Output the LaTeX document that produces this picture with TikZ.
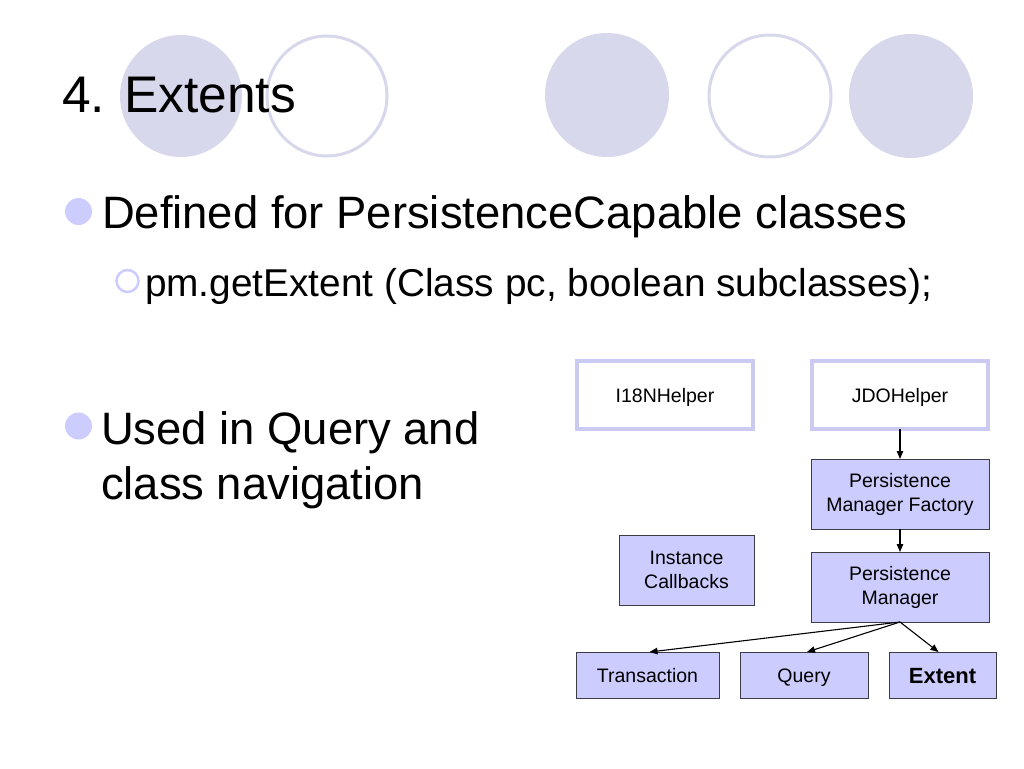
\documentclass[tikz,border=0pt]{standalone}
\usepackage{fontspec}
\setmainfont{Liberation Sans}
\usetikzlibrary{arrows.meta}
\definecolor{circ}{RGB}{216,216,236}
\definecolor{boxfill}{RGB}{204,204,255}
\definecolor{helperline}{RGB}{202,202,242}
\definecolor{bul}{RGB}{204,204,255}
\definecolor{boxline}{RGB}{60,60,70}
\begin{document}
\begin{tikzpicture}[x=1pt,y=-1pt,
  helperbox/.style={draw=helperline, line width=4pt, fill=white, inner sep=0pt, outer sep=0pt,
     minimum width=176pt, minimum height=68pt, align=center, text height=14pt, text depth=0pt,
     font=\fontsize{19.5}{24}\selectfont},
  classbox/.style={draw=boxline, line width=0.9pt, fill=boxfill, inner sep=0pt, outer sep=0pt,
     align=center, font=\fontsize{19.5}{24}\selectfont},
  oneline/.style={text height=14pt, text depth=0pt},
  conn/.style={draw=black, line width=1.1pt, -{Triangle[length=8pt,width=6.5pt]}},
  txt/.style={anchor=base west, inner sep=0pt, outer sep=0pt},
  bigbul/.style={circle, fill=bul, minimum size=27pt, inner sep=0pt},
  smallbul/.style={circle, draw=bul, line width=2.5pt, minimum size=22pt, inner sep=0pt}
]
\useasboundingbox (0,0) rectangle (1024,768);
\fill[white] (0,0) rectangle (1024,768);
% decorative circles
\fill[circ] (181,96) circle[radius=61pt];
\draw[circ, line width=3pt] (327,96) circle[radius=60pt];
\fill[circ] (607,95) circle[radius=62pt];
\draw[circ, line width=3pt] (770,96) circle[radius=61pt];
\fill[circ] (911,96) circle[radius=62pt];
% title
\node[txt, font=\fontsize{51.5}{52}\selectfont] (title) at (62,112) {4. Extents};
% bullets
\node[bigbul] (b1) at (78.5,211.5) {};
\node[txt, font=\fontsize{45.4}{54}\selectfont] (t1) at (102,228) {Defined for PersistenceCapable classes};
\node[smallbul] (b2) at (127.5,281) {};
\node[txt, font=\fontsize{38.8}{46}\selectfont] (t2) at (145,296) {pm.getExtent (Class pc, boolean subclasses);};
\node[bigbul] (b3) at (78.5,426) {};
\node[txt, font=\fontsize{45.4}{54}\selectfont] (t3) at (101,444) {Used in Query and};
\node[txt, font=\fontsize{45.4}{54}\selectfont] (t4) at (101,499) {class navigation};
% diagram
\node[helperbox] (i18n) at (665,395) {I18NHelper};
\node[helperbox] (jdo) at (900,395) {JDOHelper};
\node[classbox, minimum width=178pt, minimum height=70pt] (pmf) at (900,494) {Persistence\\Manager Factory};
\node[classbox, minimum width=135pt, minimum height=70pt] (ic) at (686.5,570) {Instance\\Callbacks};
\node[classbox, minimum width=178pt, minimum height=70pt] (pm) at (900,587) {Persistence\\Manager};
\node[classbox, oneline, minimum width=143pt, minimum height=46pt] (tr) at (647.5,675) {Transaction};
\node[classbox, oneline, minimum width=128pt, minimum height=46pt] (qu) at (804,675) {Query};
\node[classbox, minimum width=107pt, minimum height=46pt, text height=16pt, text depth=0pt, font=\fontsize{22}{26}\selectfont\bfseries] (ex) at (942.5,675) {Extent};
\draw[conn] (jdo.south) -- (pmf.north);
\draw[conn] (pmf.south) -- (pm.north);
\draw[conn] (pm.south) -- ([xshift=2pt]tr.north);
\draw[conn] (pm.south) -- ([xshift=3pt]qu.north);
\draw[conn] (pm.south) -- ([xshift=-4pt]ex.north);
\end{tikzpicture}
\end{document}
